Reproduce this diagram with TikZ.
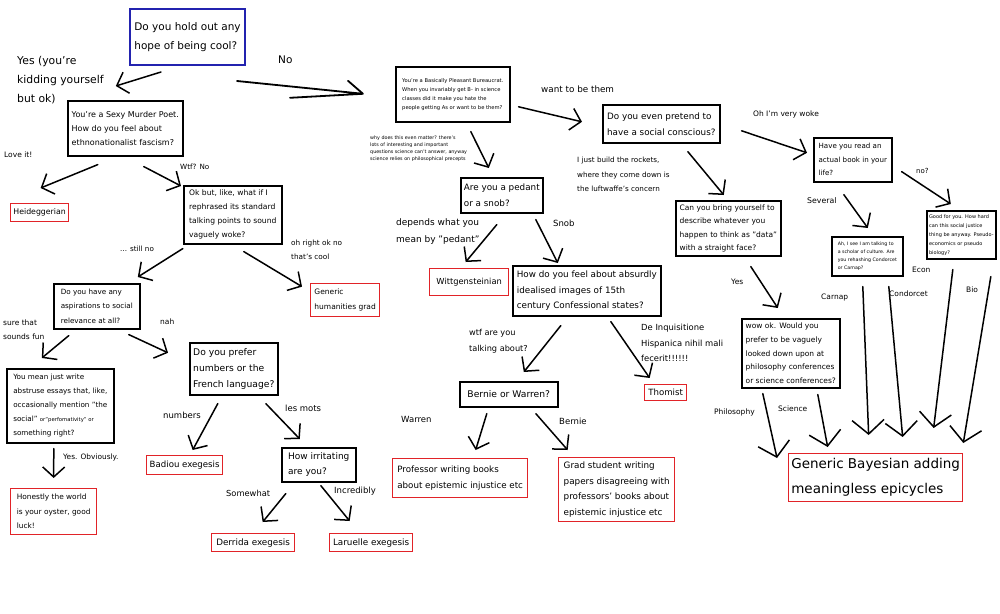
\documentclass[tikz,border=0pt]{standalone}
\usepackage{fontspec}
\setmainfont{DejaVu Sans}
\usetikzlibrary{arrows.meta}
\definecolor{endred}{RGB}{225,35,40}
\definecolor{startblue}{RGB}{35,35,175}
\newcommand{\fsz}[2]{\fontsize{#1}{#2}\selectfont}

\begin{document}
\begin{tikzpicture}[x=1pt, y=-1pt,
    qbox/.style={draw, line width=1.6pt, anchor=north west, align=left, inner sep=2pt},
    endbox/.style={qbox, draw=endred, line width=1.3pt},
    lbl/.style={anchor=north west, align=left, inner sep=0pt},
    arr/.style={line width=1.5pt, line cap=round, -{Straight Barb[length=10pt, width=22pt]}},
    bigarr/.style={line width=1.5pt, line cap=round, -{Straight Barb[length=14pt, width=32pt]}}]
    \useasboundingbox[fill=white] (0,0) rectangle (1000,613);

    % left branch
    \node[qbox, draw=startblue, line width=2pt, minimum width=115pt, minimum height=56pt, font=\fsz{10.5}{19}] (cool) at (129,8) {Do you hold out any\\hope of being cool?};
    \node[qbox, minimum width=115pt, minimum height=55pt, font=\fsz{8}{14}] (poet) at (67,100) {You're a Sexy Murder Poet.\\How do you feel about\\ethnonationalist fascism?};
    \node[qbox, minimum width=98pt, minimum height=58pt, font=\fsz{7.6}{14}] (rephrase) at (183,185) {Ok but, like, what if I\\rephrased its standard\\talking points to sound\\vaguely woke?};
    \node[endbox, minimum width=58pt, minimum height=18pt, font=\fsz{7.8}{10}] (heid) at (10,203) {Heideggerian};
    \node[qbox, minimum width=86pt, minimum height=45pt, font=\fsz{7.2}{14.5}] (aspire) at (53,283) {Do you have any\\aspirations to social\\relevance at all?};
    \node[endbox, minimum width=69pt, minimum height=33pt, font=\fsz{7.5}{14.5}] (humgrad) at (310,283) {Generic\\humanities grad};
    \node[qbox, minimum width=88pt, minimum height=52pt, font=\fsz{9.2}{16}] (numfr) at (189,342) {Do you prefer\\numbers or the\\French language?};
    \node[qbox, minimum width=107pt, minimum height=74pt, font=\fsz{7.2}{14}] (essays) at (6,368) {You mean just write\\abstruse essays that, like,\\occasionally mention "the\\social" {\fsz{5.3}{14}or"perfomativity" or}\\something right?};
    \node[endbox, minimum width=86pt, minimum height=46pt, font=\fsz{7.4}{14.5}] (oyster) at (10,488) {Honestly the world\\is your oyster, good\\luck!};
    \node[endbox, minimum width=76pt, minimum height=19pt, font=\fsz{8.6}{10}] (badiou) at (146,455) {Badiou exegesis};
    \node[qbox, minimum width=74pt, minimum height=34pt, font=\fsz{9}{15}] (irritate) at (281,447) {How irritating\\are you?};
    \node[endbox, minimum width=83pt, minimum height=18pt, font=\fsz{8.8}{10}] (derrida) at (211,533) {Derrida exegesis};
    \node[endbox, minimum width=83pt, minimum height=18pt, font=\fsz{8.8}{10}] (laruelle) at (329,533) {Laruelle exegesis};

    % middle branch
    \node[qbox, minimum width=114pt, minimum height=55pt, font=\fsz{5.2}{9}] (bureau) at (395,66) {You're a Basically Pleasant Bureaucrat.\\When you invariably get B- in science\\classes did it make you hate the\\people getting As or want to be them?};
    \node[qbox, minimum width=82pt, minimum height=35pt, font=\fsz{8.8}{16}] (pedant) at (460,177) {Are you a pedant\\or a snob?};
    \node[endbox, minimum width=79pt, minimum height=27pt, font=\fsz{8.3}{10}] (witt) at (429,268) {Wittgensteinian};
    \node[qbox, minimum width=148pt, minimum height=50pt, font=\fsz{8.8}{15.5}] (confess) at (512,265) {How do you feel about absurdly\\idealised images of 15th\\century Confessional states?};
    \node[endbox, minimum width=42pt, minimum height=16pt, font=\fsz{8.6}{10}] (thomist) at (644,384) {Thomist};
    \node[qbox, minimum width=98pt, minimum height=25pt, font=\fsz{9.2}{10}] (bernwarr) at (459,381) {Bernie or Warren?};
    \node[endbox, minimum width=135pt, minimum height=39pt, font=\fsz{8.7}{16}] (prof) at (392,458) {Professor writing books\\about epistemic injustice etc};
    \node[endbox, minimum width=116pt, minimum height=64pt, font=\fsz{8.8}{15.7}] (gradst) at (558,457) {Grad student writing\\papers disagreeing with\\professors' books about\\epistemic injustice etc};

    % right branch
    \node[qbox, minimum width=117pt, minimum height=38pt, font=\fsz{8.8}{16}] (conscious) at (602,104) {Do you even pretend to\\have a social conscious?};
    \node[qbox, minimum width=78pt, minimum height=44pt, font=\fsz{7.1}{13.5}] (readbook) at (813,137) {Have you read an\\actual book in your\\life?};
    \node[qbox, minimum width=69pt, minimum height=48pt, font=\fsz{5}{9}] (goodfor) at (926,210) {Good for you. How hard\\can this social justice\\thing be anyway. Pseudo-\\economics or pseudo\\biology?};
    \node[qbox, minimum width=71pt, minimum height=39pt, font=\fsz{4.7}{8}] (scholar) at (831,236) {Ah, I see I am talking to\\a scholar of culture. Are\\you rehashing Condorcet\\or Carnap?};
    \node[qbox, minimum width=105pt, minimum height=55pt, font=\fsz{7.5}{13.5}] (data) at (675,200) {Can you bring yourself to\\describe whatever you\\happen to think as "data"\\with a straight face?};
    \node[qbox, minimum width=98pt, minimum height=69pt, font=\fsz{7.5}{13.7}] (wowok) at (741,318) {wow ok. Would you\\prefer to be vaguely\\looked down upon at\\philosophy conferences\\or science conferences?};
    \node[endbox, minimum width=174pt, minimum height=48pt, font=\fsz{13.5}{25}] (bayes) at (788,453) {Generic Bayesian adding\\meaningless epicycles};

    % answers
    \node[lbl, font=\fsz{10.8}{19}] (lyes) at (17,56) {Yes (you're\\kidding yourself\\but ok)};
    \node[lbl, font=\fsz{10.5}{12}] (lno) at (278,56) {No};
    \node[lbl, font=\fsz{7.5}{10}] (llove) at (4,152) {Love it!};
    \node[lbl, font=\fsz{7.2}{10}] (lwtf) at (180,164) {Wtf? No};
    \node[lbl, font=\fsz{7.2}{10}] (lstill) at (120,246) {... still no};
    \node[lbl, font=\fsz{7.3}{14}] (lcool) at (291,240) {oh right ok no\\that's cool};
    \node[lbl, font=\fsz{7.5}{14}] (lsure) at (3,320) {sure that\\sounds fun};
    \node[lbl, font=\fsz{7.5}{10}] (lnah) at (160,319) {nah};
    \node[lbl, font=\fsz{7.4}{10}] (lobv) at (63,454) {Yes. Obviously.};
    \node[lbl, font=\fsz{8.5}{10}] (lnum) at (163,412) {numbers};
    \node[lbl, font=\fsz{8.5}{10}] (lmots) at (285,405) {les mots};
    \node[lbl, font=\fsz{8.3}{10}] (lsome) at (226,490) {Somewhat};
    \node[lbl, font=\fsz{8.5}{10}] (lincr) at (334,487) {Incredibly};
    \node[lbl, font=\fsz{8.8}{10}] (lwant) at (541,86) {want to be them};
    \node[lbl, font=\fsz{4.8}{7}] (lwhy) at (370,136) {why does this even matter? there's\\lots of interesting and important\\questions science can't answer, anyway\\science relies on philosophical precepts};
    \node[lbl, font=\fsz{9}{17}] (ldep) at (396,218) {depends what you\\mean by "pedant"};
    \node[lbl, font=\fsz{8.5}{10}] (lsnob) at (553,220) {Snob};
    \node[lbl, font=\fsz{8.2}{16}] (lwtfab) at (469,329) {wtf are you\\talking about?};
    \node[lbl, font=\fsz{8.4}{15.5}] (linq) at (641,324) {De Inquisitione\\Hispanica nihil mali\\fecerit!!!!!!};
    \node[lbl, font=\fsz{8.5}{10}] (lwarren) at (401,416) {Warren};
    \node[lbl, font=\fsz{8.5}{10}] (lbernie) at (559,418) {Bernie};
    \node[lbl, font=\fsz{7.5}{10}] (lwoke) at (753,111) {Oh I'm very woke};
    \node[lbl, font=\fsz{7.2}{14.5}] (lrocket) at (577,157) {I just build the rockets,\\where they come down is\\the luftwaffe's concern};
    \node[lbl, font=\fsz{7}{10}] (lnoq) at (916,168) {no?};
    \node[lbl, font=\fsz{7.8}{10}] (lsev) at (807,197) {Several};
    \node[lbl, font=\fsz{7.5}{10}] (lyes2) at (731,279) {Yes};
    \node[lbl, font=\fsz{7.5}{10}] (lcarnap) at (821,294) {Carnap};
    \node[lbl, font=\fsz{7.5}{10}] (lcond) at (889,291) {Condorcet};
    \node[lbl, font=\fsz{7.5}{10}] (lecon) at (912,267) {Econ};
    \node[lbl, font=\fsz{7.5}{10}] (lbio) at (966,287) {Bio};
    \node[lbl, font=\fsz{7.5}{10}] (lphil) at (714,409) {Philosophy};
    \node[lbl, font=\fsz{7.5}{10}] (lsci) at (778,406) {Science};

    % arrows
    \draw[arr] ([shift={(-26.5,6)}]cool.south) -- ([shift={(-9.5,-14)}]poet.north);
    \draw[line width=1.8pt, line cap=round] ([shift={(-9,15)}]cool.south east) -- ([shift={(-32,-0.5)}]bureau.west) coordinate (notip) -- ++(-73,4) (notip) -- ++(-15,-13);
    \draw[arr] ([shift={(-27.5,8)}]poet.south) -- ([shift={(1,-15)}]heid.north);
    \draw[arr] ([shift={(18.5,10)}]poet.south) -- ([shift={(-2,1)}]rephrase.north west);
    \draw[arr] ([shift={(-50,4)}]rephrase.south) -- ([shift={(41,-6)}]aspire.north);
    \draw[arr] ([shift={(11,7)}]rephrase.south) -- ([shift={(-8,-13.5)}]humgrad.west);
    \draw[arr] ([shift={(-28,6)}]aspire.south) -- ([shift={(-18.5,-10)}]essays.north);
    \draw[arr] ([shift={(32,5)}]aspire.south) -- ([shift={(-21,-16)}]numfr.west);
    \draw[arr] ([shift={(-6.5,5)}]essays.south) -- ([shift={(0,-10)}]oyster.north);
    \draw[arr] ([shift={(-16,8)}]numfr.south) -- ([shift={(8,-5)}]badiou.north);
    \draw[arr] ([shift={(32,8)}]numfr.south) -- ([shift={(-19,-8)}]irritate.north);
    \draw[arr] ([shift={(-33,11)}]irritate.south) -- ([shift={(9.5,-11)}]derrida.north);
    \draw[arr] ([shift={(2,3)}]irritate.south) -- ([shift={(-21.5,-12)}]laruelle.north);

    \draw[arr] ([shift={(8,12.5)}]bureau.east) -- ([shift={(-20,-2)}]conscious.west);
    \draw[arr] ([shift={(18,9)}]bureau.south) -- ([shift={(-13,-9)}]pedant.north);
    \draw[arr] ([shift={(-5,11)}]pedant.south) -- ([shift={(-3.5,-6)}]witt.north);
    \draw[arr] ([shift={(34,6)}]pedant.south) -- ([shift={(-29,-2)}]confess.north);
    \draw[arr] ([shift={(-26,9)}]confess.south) -- ([shift={(15,-9)}]bernwarr.north);
    \draw[arr] ([shift={(24,5)}]confess.south) -- ([shift={(-16,-6)}]thomist.north);
    \draw[arr] ([shift={(-22,6)}]bernwarr.south) -- ([shift={(15.5,-8)}]prof.north);
    \draw[arr] ([shift={(27,6)}]bernwarr.south) -- ([shift={(-49,-7)}]gradst.north);

    \draw[arr] ([shift={(21,7)}]conscious.east) -- ([shift={(-6,-7)}]readbook.west);
    \draw[arr] ([shift={(26.5,8)}]conscious.south) -- ([shift={(-4.5,-5)}]data.north);
    \draw[arr] ([shift={(9,-11)}]readbook.south east) -- ([shift={(-10.5,-6)}]goodfor.north);
    \draw[arr] ([shift={(-9,12)}]readbook.south) -- ([shift={(0.5,-8)}]scholar.north);
    \draw[arr] ([shift={(22.5,10)}]data.south) -- ([shift={(-13,-10)}]wowok.north);
    \draw[bigarr] ([shift={(-28,5)}]wowok.south) -- ([shift={(-11,5)}]bayes.north west);
    \draw[bigarr] ([shift={(27,6)}]wowok.south) -- ([shift={(-48,-6)}]bayes.north);
    \draw[bigarr] ([shift={(-4.5,10)}]scholar.south) -- ([shift={(-7,-18)}]bayes.north);
    \draw[bigarr] ([shift={(21.5,10)}]scholar.south) -- ([shift={(27,-16)}]bayes.north);
    \draw[bigarr] ([shift={(-8.5,10)}]goodfor.south) -- ([shift={(58,-25)}]bayes.north);
    \draw[bigarr] ([shift={(29.5,17)}]goodfor.south) -- ([shift={(0,-10)}]bayes.north east);
\end{tikzpicture}
\end{document}
